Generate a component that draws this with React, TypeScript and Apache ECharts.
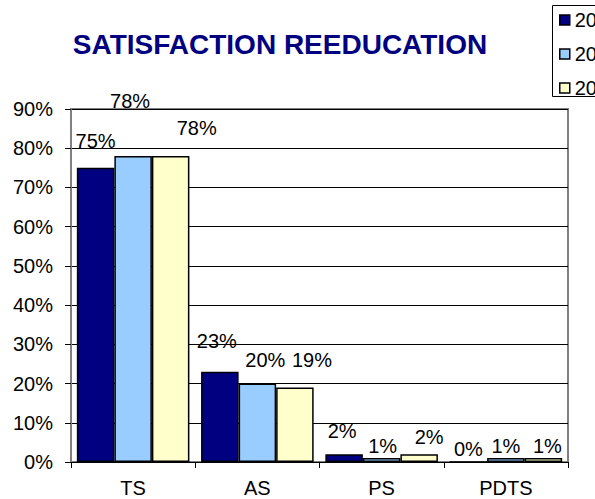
import React, { useEffect, useRef } from "react";
import * as echarts from "echarts";

const categories = ["TS", "AS", "PS", "PDTS"];
const seriesNames = ["2007", "2008", "2009"];
const valuesA = [75, 23, 2, 0];
const valuesB = [78, 20, 1, 1];
const valuesC = [78, 19, 2, 1];
const yTicks = { min: 0, max: 90, interval: 10 };

// Label nudges (px), mimicking the original spreadsheet placement
const labelNudgeA = [[0, -17], [-3, -21], [-2, -13], [0, -2]];
const labelNudgeB = [[-3, -45], [8, -14], [1, -2], [0, -2]];
const labelNudgeC = [[26, -18], [17, -17], [10, -7], [4, -2]];

const colors = ["#000080", "#99CCFF", "#FFFFCC"];
const FONT = "'Liberation Sans', Arial, sans-serif";
const FS = 20;

function buildSeries(name: string, values: number[], nudges: number[][], color: string) {
  return {
    name,
    type: "bar",
    barGap: "0%",
    barCategoryGap: "9.4%",
    itemStyle: { color, borderColor: "#000", borderWidth: 1.5 },
    label: {
      show: true,
      position: "top",
      distance: 0,
      formatter: "{c}%",
      fontFamily: FONT,
      fontSize: FS,
      color: "#000",
    },
    data: values.map((v, i) => ({
      value: v,
      label: { offset: nudges[i] },
    })),
  };
}

export default function App() {
  const ref = useRef<HTMLDivElement>(null);
  useEffect(() => {
    if (!ref.current) return;
    const chart = echarts.init(ref.current, undefined, { renderer: "svg" });
    chart.setOption({
      animation: false,
      backgroundColor: "#fff",
      title: {
        text: "SATISFACTION REEDUCATION",
        left: 280,
        top: 30,
        textAlign: "center",
        padding: 0,
        textStyle: {
          fontFamily: FONT,
          fontSize: 28,
          fontWeight: "bold",
          color: "#000080",
        },
      },
      legend: {
        orient: "vertical",
        left: 559,
        top: 10,
        padding: 0,
        itemWidth: 10,
        itemHeight: 10,
        itemGap: 14,
        icon: "rect",
        itemStyle: { borderColor: "#000", borderWidth: 1.5 },
        textStyle: { fontFamily: FONT, fontSize: FS, color: "#000" },
        data: seriesNames,
      },
      graphic: [
        {
          type: "rect",
          shape: { x: 552.5, y: 5.5, width: 80, height: 91 },
          style: { fill: "none", stroke: "#000", lineWidth: 1 },
          z: 10,
        },
      ],
      grid: {
        left: 71,
        top: 109,
        right: 27,
        bottom: 37,
        show: true,
        borderColor: "#808080",
        borderWidth: 2,
      },
      xAxis: {
        type: "category",
        data: categories,
        axisLine: { lineStyle: { color: "#000", width: 1 } },
        axisTick: { show: true, length: 6, lineStyle: { color: "#000" } },
        axisLabel: { fontFamily: FONT, fontSize: FS, color: "#000", margin: 16 },
      },
      yAxis: {
        type: "value",
        min: yTicks.min,
        max: yTicks.max,
        interval: yTicks.interval,
        axisLine: { show: true, lineStyle: { color: "#808080", width: 2 } },
        axisTick: { show: true, length: 6, lineStyle: { color: "#000" } },
        axisLabel: { fontFamily: FONT, fontSize: FS, color: "#000", margin: 18, formatter: "{value}%" },
        splitLine: { lineStyle: { color: "#000", width: 1 } },
      },
      series: [
        buildSeries(seriesNames[0], valuesA, labelNudgeA, colors[0]),
        buildSeries(seriesNames[1], valuesB, labelNudgeB, colors[1]),
        buildSeries(seriesNames[2], valuesC, labelNudgeC, colors[2]),
      ],
    });
    return () => chart.dispose();
  }, []);
  return (
    <div
      ref={ref}
      style={{ position: "fixed", left: 0, top: 0, width: 595, height: 499, overflow: "hidden" }}
    />
  );
}
